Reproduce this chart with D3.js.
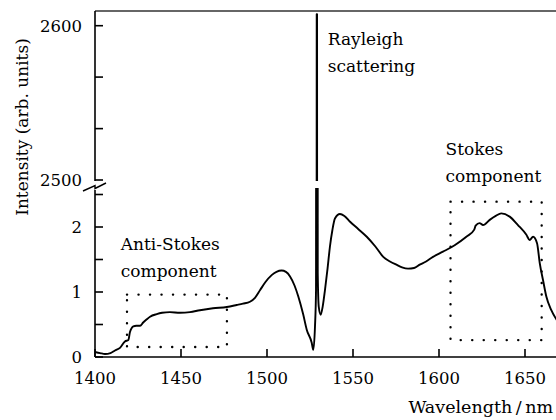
<!DOCTYPE html>
<html>
<head>
<meta charset="utf-8">
<script src="https://cdn.jsdelivr.net/npm/d3@7"></script>
<style>
    body { margin: 0; background: #fff; }
</style>
</head>
<body>
<div id="spectrum"></div>
<script>
// spectrum (nm, arb. units)
var wavelengths = [1400, 1403, 1405.8, 1409, 1411.6, 1414.5, 1417.4, 1419.4, 1420.3, 1422.3, 1424, 1426.2,
    1428, 1430.1, 1432, 1435.9, 1439, 1443.6, 1449.4, 1455.2, 1461, 1468.6, 1476.6, 1482.4, 1486, 1490.1,
    1493, 1496, 1499, 1502.7, 1505.5, 1508.5, 1511, 1513.4, 1516, 1518.2, 1521, 1523.1, 1526, 1526.9,
    1527.9, 1528.5, 1528.9, 1529.1, 1529.5, 1530.1, 1531.2, 1532.4, 1533.7, 1535.2, 1536.6, 1538, 1539.5,
    1542.4, 1545, 1548.3, 1553, 1558, 1563, 1567.6, 1571.5, 1575.2, 1578.5, 1582, 1585.5, 1588.8, 1592.5,
    1596.5, 1602.3, 1609.1, 1615.9, 1620.5, 1621.3, 1623.6, 1625.6, 1629.5, 1633, 1636.2, 1641.1, 1645.9,
    1650.8, 1652.7, 1654.7, 1657, 1658.6, 1660.5, 1662.4, 1665.3, 1669.8];
var intensities = [0.077, 0.06, 0.046, 0.06, 0.1, 0.14, 0.24, 0.26, 0.38, 0.47, 0.48, 0.48,
    0.53, 0.58, 0.62, 0.66, 0.68, 0.69, 0.68, 0.69, 0.72, 0.75, 0.77, 0.8, 0.82, 0.85,
    0.91, 1.03, 1.15, 1.26, 1.31, 1.33, 1.31, 1.24, 1.1, 0.93, 0.66, 0.42, 0.22, 0.11,
    0.47, 1.03, 2607.5, 2607.5, 1.29, 0.77, 0.65, 0.78, 1.03, 1.36, 1.7, 1.95, 2.13,
    2.2, 2.17, 2.08, 1.97, 1.85, 1.7, 1.54, 1.47, 1.42, 1.38, 1.36, 1.37, 1.42, 1.47,
    1.54, 1.62, 1.72, 1.85, 1.96, 2.02, 2.06, 2.03, 2.11, 2.17, 2.21, 2.16, 2.03,
    1.88, 1.8, 1.85, 1.75, 1.44, 1.18, 0.93, 0.72, 0.52];

var x_ticks = [1400, 1450, 1500, 1550, 1600, 1650];
var lower_ticks = [0, 0.5, 1, 1.5, 2, 2.5];
var lower_labels = [0, 1, 2];
var upper_ticks = [2500, 2533.3, 2566.7, 2600];
var upper_labels = [2500, 2600];

// dotted frames [x0, x1, y0, y1]
var anti_stokes_box = [1418.6, 1476.7, 0.154, 0.96];
var stokes_box = [1606.7, 1659.7, 0.26, 2.39];

var annotations = [
    {lines: ["Rayleigh", "scattering"], x: 1535.3, y: 2587.6},
    {lines: ["Stokes", "component"], x: 1603.8, y: 3.11},
    {lines: ["Anti-Stokes", "component"], x: 1415, y: 1.65}
];

var width = 556;
var height = 420;
var font_family = "DejaVu Serif";

var svg = d3.select("#spectrum").append("svg")
            .attr("width", width)
            .attr("height", height)
            .style("font-family", font_family);

var x = d3.scaleLinear().domain([1400, 1700]).range([95, 611]);
var y_lower = d3.scaleLinear().domain([0, 2.6]).range([357, 188]);
var y_upper = d3.scaleLinear().domain([2500, 2600]).range([180, 25.7]);

var plot_right = width;

// clip regions for both parts of the broken axis
var defs = svg.append("defs");
defs.append("clipPath").attr("id", "clip-lower")
    .append("rect").attr("x", 95).attr("y", y_lower(2.6)).attr("width", plot_right - 95).attr("height", y_lower(0) - y_lower(2.6));
defs.append("clipPath").attr("id", "clip-upper")
    .append("rect").attr("x", 95).attr("y", 11).attr("width", plot_right - 95).attr("height", 181 - 11);

var points = wavelengths.map(function (w, i) { return [w, intensities[i]]; });

function draw_curve(y_scale, clip_id)
{
    var line = d3.line()
                 .curve(d3.curveMonotoneX)
                 .x(function (d) { return x(d[0]); })
                 .y(function (d) { return Math.max(-2000, Math.min(2000, y_scale(d[1]))); });

    svg.append("path")
       .datum(points)
       .attr("clip-path", "url(#" + clip_id + ")")
       .attr("d", line)
       .attr("fill", "none")
       .attr("stroke", "#000")
       .attr("stroke-width", 1.9)
       .attr("stroke-linejoin", "round");
}

draw_curve(y_lower, "clip-lower");
draw_curve(y_upper, "clip-upper");

function draw_box(box)
{
    svg.append("rect")
       .attr("x", x(box[0]))
       .attr("y", y_lower(box[3]))
       .attr("width", x(box[1]) - x(box[0]))
       .attr("height", y_lower(box[2]) - y_lower(box[3]))
       .attr("fill", "none")
       .attr("stroke", "#000")
       .attr("stroke-width", 2.4)
       .attr("stroke-linecap", "round")
       .attr("stroke-dasharray", "0.1,11.4");
}

draw_box(anti_stokes_box);
draw_box(stokes_box);

// axes
var axis_group = svg.append("g").attr("stroke", "#000").attr("stroke-width", 1.6);

axis_group.append("line").attr("x1", 95).attr("x2", plot_right).attr("y1", 11).attr("y2", 11).attr("stroke", "#333");
axis_group.append("line").attr("x1", 95).attr("x2", plot_right).attr("y1", y_lower(0)).attr("y2", y_lower(0));
axis_group.append("line").attr("x1", 95).attr("x2", 95).attr("y1", 11).attr("y2", 181);
axis_group.append("line").attr("x1", 95).attr("x2", 95).attr("y1", 190).attr("y2", y_lower(0));

// axis break mark
axis_group.append("path")
          .attr("d", "M83,191 L95,185.5 L95,188.5 L106,183")
          .attr("fill", "none")
          .attr("stroke-width", 1.4);

var tick_length = 8;

axis_group.selectAll(".x-tick").data(x_ticks).enter().append("line")
          .attr("x1", function (d) { return x(d); })
          .attr("x2", function (d) { return x(d); })
          .attr("y1", y_lower(0))
          .attr("y2", y_lower(0) - tick_length);

axis_group.selectAll(".lower-tick").data(lower_ticks).enter().append("line")
          .attr("x1", 95).attr("x2", 95 + tick_length)
          .attr("y1", function (d) { return y_lower(d); })
          .attr("y2", function (d) { return y_lower(d); });

axis_group.selectAll(".upper-tick").data(upper_ticks).enter().append("line")
          .attr("x1", 95).attr("x2", 95 + tick_length)
          .attr("y1", function (d) { return y_upper(d); })
          .attr("y2", function (d) { return y_upper(d); });

var font_size = 17;
var tick_font_size = 16.5;

svg.selectAll(".x-label").data(x_ticks).enter().append("text")
   .attr("x", function (d) { return x(d); })
   .attr("y", 384)
   .attr("text-anchor", "middle")
   .attr("font-size", tick_font_size)
   .text(function (d) { return d; });

svg.selectAll(".lower-label").data(lower_labels).enter().append("text")
   .attr("x", 82)
   .attr("y", function (d) { return y_lower(d) + 6; })
   .attr("text-anchor", "end")
   .attr("font-size", tick_font_size)
   .text(function (d) { return d; });

svg.selectAll(".upper-label").data(upper_labels).enter().append("text")
   .attr("x", 82)
   .attr("y", function (d) { return y_upper(d) + 6; })
   .attr("text-anchor", "end")
   .attr("font-size", tick_font_size)
   .text(function (d) { return d; });

svg.append("text")
   .attr("x", 553)
   .attr("y", 413)
   .attr("text-anchor", "end")
   .attr("font-size", 17.5)
   .text("Wavelength\u2009/\u2009nm");

svg.append("text")
   .attr("transform", "translate(28,127)rotate(-90)")
   .attr("text-anchor", "middle")
   .attr("font-size", font_size)
   .text("Intensity (arb. units)");

// annotations, first line anchored at data point, second line below
annotations.forEach(function (note) {
    var y_scale = note.y > 100 ? y_upper : y_lower;
    var label = svg.append("text")
                   .attr("x", x(note.x))
                   .attr("y", y_scale(note.y))
                   .attr("font-size", font_size);
    note.lines.forEach(function (line_text, i) {
        label.append("tspan")
             .attr("x", x(note.x))
             .attr("dy", i === 0 ? 0 : 27.5)
             .text(line_text);
    });
});
</script>
</body>
</html>
